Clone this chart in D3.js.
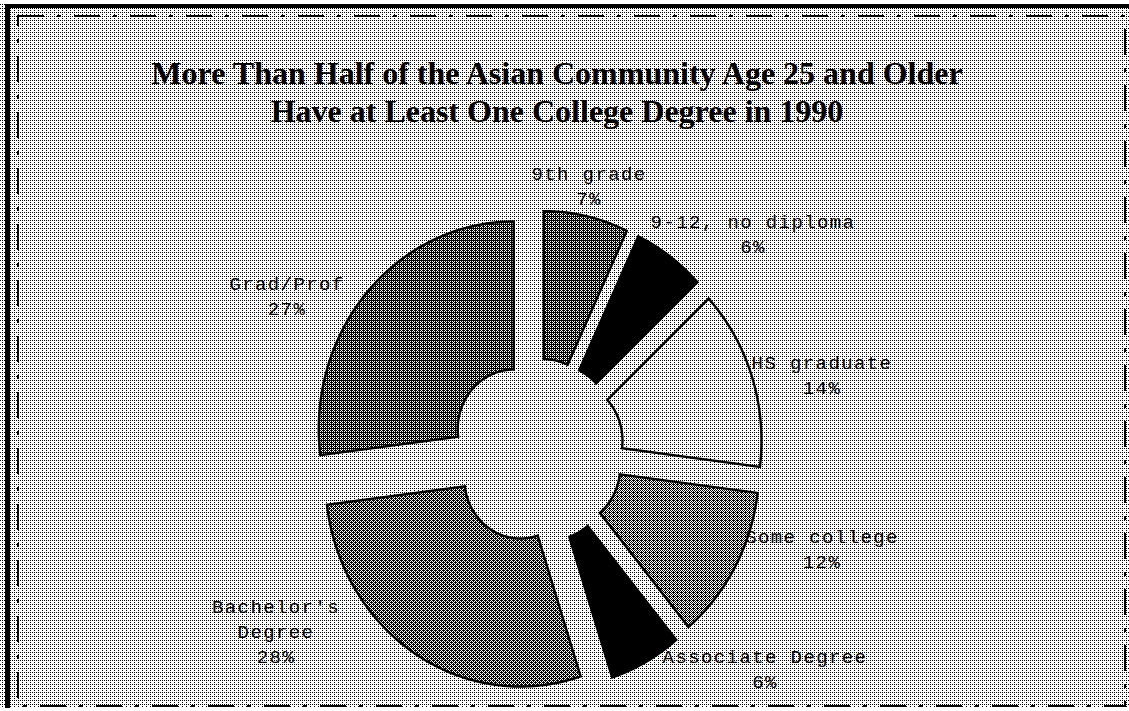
<!DOCTYPE html>
<html><head><meta charset="utf-8">
<script src="https://cdn.jsdelivr.net/npm/d3@7"></script>
<style>html,body{margin:0;padding:0;background:#fff;overflow:hidden}</style>
</head><body><svg id="chart" width="1129" height="711"></svg>
<script>
// ---- data ----
const categories = ["9th grade", "9-12, no diploma", "HS graduate", "Some college", "Associate Degree", "Bachelor's Degree", "Grad/Prof"];
const percents = [7, 6, 14, 12, 6, 28, 27];
const labelNameLines = [["9th grade"], ["9-12, no diploma"], ["HS graduate"], ["Some college"], ["Associate Degree"], ["Bachelor's", "Degree"], ["Grad/Prof"]];
const titleLines = ["More Than Half of the Asian Community Age 25 and Older", "Have at Least One College Degree in 1990"];

// ---- style / layout ----
const W = 1129, H = 711;
const shades = [0.68, 1, 0.2, 0.55, 1, 0.63, 0.68]; // fraction black (dither level)
const bgShade = 0.2;
const cx = 537, cy = 451, sy = 1.065;
const rOuter = 195, rInner = 56, explode = 31;
const labelAnchors = [[589, 180], [753, 228], [822, 369], [822, 543], [765, 663], [276, 613], [287, 290]];
const lineGap = 24.8;

const svg = d3.select("#chart");
const defs = svg.append("defs");
const bayer = [[0, 8, 2, 10], [12, 4, 14, 6], [3, 11, 1, 9], [15, 7, 13, 5]];
function makePattern(id, level) {
  const p = defs.append("pattern").attr("id", id)
    .attr("patternUnits", "userSpaceOnUse").attr("width", 4).attr("height", 4);
  p.append("rect").attr("width", 4).attr("height", 4).attr("fill", "#fff");
  for (let y = 0; y < 4; y++) for (let x = 0; x < 4; x++) {
    if ((bayer[y][x] + 0.5) / 16 < level)
      p.append("rect").attr("x", x).attr("y", y).attr("width", 1).attr("height", 1).attr("fill", "#000");
  }
}
makePattern("bg", bgShade);
shades.forEach((s, i) => { if (s < 1) makePattern("s" + i, s); });

// background
svg.append("rect").attr("width", W).attr("height", H).attr("fill", "url(#bg)").attr("shape-rendering", "crispEdges");
svg.append("rect").attr("x", 0).attr("y", 0).attr("width", W).attr("height", 3).attr("fill", "#fff");
// thick borders
svg.append("rect").attr("x", 5).attr("y", 4).attr("width", W - 5).attr("height", 4).attr("fill", "#000");
svg.append("rect").attr("x", 5).attr("y", 4).attr("width", 5).attr("height", H - 4).attr("fill", "#000");
svg.append("rect").attr("x", 0).attr("y", 708).attr("width", W).attr("height", 3).attr("fill", "#fff");
// dashed frame
svg.append("rect").attr("x", 18).attr("y", 16).attr("width", 1107).attr("height", 690)
  .attr("fill", "none").attr("stroke", "#000").attr("stroke-width", 2)
  .attr("stroke-dasharray", "26 13 4 13");

// title
const title = svg.append("text").attr("text-anchor", "middle")
  .attr("font-family", "'Liberation Serif','Times New Roman',serif")
  .attr("font-weight", "bold").attr("font-size", 32).attr("fill", "#000");
titleLines.forEach((t, i) => title.append("tspan").attr("x", 557).attr("y", 84 + i * 38).text(t));

// elliptical path context for d3.arc (slightly taller than wide, as in the scan)
function ellipseContext(ox, oy) {
  let s = "", has = false;
  const P = (x, y) => `${(cx + ox + x).toFixed(2)},${(cy + sy * (oy + y)).toFixed(2)}`;
  return {
    moveTo(x, y) { s += "M" + P(x, y); has = true; },
    lineTo(x, y) { s += "L" + P(x, y); has = true; },
    closePath() { s += "Z"; },
    arc(x, y, r, a0, a1, ccw) {
      if (!ccw && a1 < a0) a1 += 2 * Math.PI;
      if (ccw && a1 > a0) a1 -= 2 * Math.PI;
      const n = Math.max(2, Math.ceil(Math.abs(a1 - a0) / (Math.PI / 180)));
      for (let k = 0; k <= n; k++) {
        const a = a0 + (a1 - a0) * k / n;
        s += ((k === 0 && !has) ? "M" : "L") + P(x + r * Math.cos(a), y + r * Math.sin(a));
      }
      has = true;
    },
    toString() { return s; }
  };
}

// pie
const pie = d3.pie().sort(null).value(d => d)(percents);
const arc = d3.arc().innerRadius(rInner).outerRadius(rOuter);
svg.append("g").selectAll("path").data(pie).join("path")
  .attr("d", d => {
    const m = (d.startAngle + d.endAngle) / 2;
    const ctx = ellipseContext(explode * Math.sin(m), -explode * Math.cos(m));
    arc.context(ctx)(d);
    return ctx.toString();
  })
  .attr("fill", (d, i) => shades[i] >= 1 ? "#000" : `url(#s${i})`)
  .attr("stroke", "#000").attr("stroke-width", 2.4)
  .attr("stroke-linejoin", "miter");

// labels
const lbl = svg.append("g")
  .attr("font-family", "'Liberation Mono','Courier New',monospace")
  .attr("font-size", 19).attr("letter-spacing", 1.4).attr("fill", "#000").attr("text-anchor", "middle");
pie.forEach((d, i) => {
  const [lx, ly] = labelAnchors[i];
  const lines = labelNameLines[i].concat([percents[i] + "%"]);
  const t = lbl.append("text");
  lines.forEach((s, k) => t.append("tspan").attr("x", lx).attr("y", ly + k * lineGap).text(s));
});
</script>
</body></html>
